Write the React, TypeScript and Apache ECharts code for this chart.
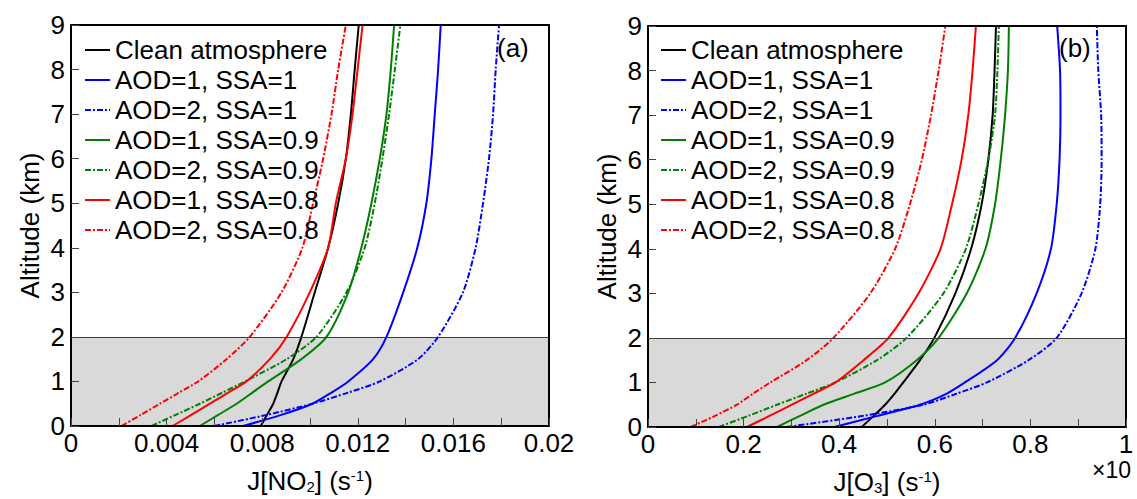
import { useEffect, useRef } from 'react';
import * as echarts from 'echarts';

// Altitude levels (km) at which the profiles were read
const ALTITUDE = [0, 0.25, 0.5, 0.75, 1, 1.5, 2, 3, 4, 5, 6, 7, 8, 9];

const SERIES_NAMES = [
  'Clean atmosphere',
  'AOD=1, SSA=1',
  'AOD=2, SSA=1',
  'AOD=1, SSA=0.9',
  'AOD=2, SSA=0.9',
  'AOD=1, SSA=0.8',
  'AOD=2, SSA=0.8',
];

// Panel (a): J[NO2] (s^-1)
const JNO2_CLEAN = [0.00794, 0.0082, 0.00846, 0.00864, 0.00881, 0.0093, 0.00964, 0.0102, 0.01076, 0.01118, 0.0115, 0.01171, 0.01187, 0.01204];
const JNO2_AOD1_SSA1 = [0.0072, 0.0088, 0.0101, 0.0109, 0.0116, 0.01264, 0.0132, 0.0139, 0.01449, 0.01487, 0.01508, 0.01522, 0.01536, 0.01547];
const JNO2_AOD2_SSA1 = [0.006, 0.0082, 0.0101, 0.0116, 0.01292, 0.01452, 0.01536, 0.0164, 0.01693, 0.01724, 0.01749, 0.01766, 0.01777, 0.01791];
const JNO2_AOD1_SSA09 = [0.00539, 0.00616, 0.00693, 0.00759, 0.00825, 0.00964, 0.01069, 0.0116, 0.01215, 0.01257, 0.01292, 0.0132, 0.01338, 0.01352];
const JNO2_AOD2_SSA09 = [0.00337, 0.00438, 0.00539, 0.00634, 0.00728, 0.00902, 0.01027, 0.01153, 0.01229, 0.01271, 0.01303, 0.01331, 0.01355, 0.01378];
const JNO2_AOD1_SSA08 = [0.00425, 0.00503, 0.00581, 0.00658, 0.00734, 0.00832, 0.00902, 0.00999, 0.01076, 0.01108, 0.0115, 0.01178, 0.01199, 0.0122];
const JNO2_AOD2_SSA08 = [0.00212, 0.00292, 0.00372, 0.00452, 0.00532, 0.00651, 0.00748, 0.00881, 0.00968, 0.01013, 0.01055, 0.0109, 0.01118, 0.0115];

// Panel (b): J[O3] (s^-1, x10^-4)
const JO3_CLEAN = [0.447, 0.472, 0.496, 0.516, 0.534, 0.569, 0.599, 0.643, 0.676, 0.698, 0.712, 0.721, 0.725, 0.728];
const JO3_AOD1_SSA1 = [0.39, 0.48, 0.569, 0.625, 0.663, 0.73, 0.768, 0.813, 0.843, 0.855, 0.861, 0.863, 0.862, 0.856];
const JO3_AOD2_SSA1 = [0.29, 0.45, 0.576, 0.646, 0.709, 0.796, 0.855, 0.907, 0.936, 0.946, 0.949, 0.948, 0.942, 0.939];
const JO3_AOD1_SSA09 = [0.27, 0.318, 0.367, 0.432, 0.496, 0.562, 0.608, 0.667, 0.706, 0.726, 0.738, 0.747, 0.753, 0.755];
const JO3_AOD2_SSA09 = [0.148, 0.21, 0.27, 0.332, 0.392, 0.479, 0.541, 0.618, 0.665, 0.691, 0.712, 0.726, 0.731, 0.734];
const JO3_AOD1_SSA08 = [0.207, 0.254, 0.301, 0.347, 0.392, 0.451, 0.503, 0.566, 0.612, 0.636, 0.656, 0.67, 0.679, 0.686];
const JO3_AOD2_SSA08 = [0.089, 0.14, 0.186, 0.22, 0.256, 0.332, 0.388, 0.465, 0.517, 0.548, 0.573, 0.592, 0.608, 0.622];

const PANEL_A = [JNO2_CLEAN, JNO2_AOD1_SSA1, JNO2_AOD2_SSA1, JNO2_AOD1_SSA09, JNO2_AOD2_SSA09, JNO2_AOD1_SSA08, JNO2_AOD2_SSA08];
const PANEL_B = [JO3_CLEAN, JO3_AOD1_SSA1, JO3_AOD2_SSA1, JO3_AOD1_SSA09, JO3_AOD2_SSA09, JO3_AOD1_SSA08, JO3_AOD2_SSA08];

// Axis ranges
const X_A = { min: 0, max: 0.02, step: 0.002 };
const X_B = { min: 0, max: 1, step: 0.1 };
const Y_RANGE = { min: 0, max: 9, step: 1 };
const BOUNDARY_LAYER = [0, 2];

// styles (kept apart from data)
const COLORS = ['#000000', '#0000ff', '#0000ff', '#008000', '#008000', '#ff0000', '#ff0000'];
const DASHED = [false, false, true, false, true, false, true];

const FONT = '"Liberation Sans", Arial, Helvetica, sans-serif';
const FS = 26;

export default function App() {
  const ref = useRef<HTMLDivElement>(null);

  useEffect(() => {
    document.body.style.margin = '0';
    document.body.style.overflow = 'hidden';
    if (!ref.current) return;
    const chart = echarts.init(ref.current, undefined, { renderer: 'svg' });

    const ranges = [X_A, X_B];
    const panels = [PANEL_A, PANEL_B];

    const fmtA = (v: number) => {
      const k = Math.round(v / X_A.step);
      return k % 2 === 0 ? String(+(k * X_A.step).toFixed(3)) : '';
    };
    const fmtB = (v: number) => {
      const k = Math.round(v / X_B.step);
      return k % 2 === 0 ? String(+(k * X_B.step).toFixed(1)) : '';
    };

    const nameRich = {
      sub: { fontSize: 15, fontFamily: FONT, color: '#000', padding: [12, 0, 0, 0] },
      sup: { fontSize: 15, fontFamily: FONT, color: '#000', padding: [0, 0, 10, 0] },
    };

    const bottomX = (i: number) => ({
      type: 'value',
      gridIndex: i,
      min: ranges[i].min,
      max: ranges[i].max,
      interval: ranges[i].step,
      position: 'bottom',
      z: 5,
      axisLine: { show: true, onZero: false, lineStyle: { color: '#000', width: 2 } },
      axisTick: { show: true, inside: true, length: 8, lineStyle: { color: '#444', width: 1 } },
      axisLabel: {
        show: true,
        fontSize: FS,
        color: '#000',
        fontFamily: FONT,
        margin: 4,
        showMinLabel: true,
        showMaxLabel: true,
        hideOverlap: false,
        formatter: i === 0 ? fmtA : fmtB,
      },
      splitLine: { show: false },
      name: i === 0 ? 'J[NO{sub|2}] (s{sup|-1})' : 'J[O{sub|3}] (s{sup|-1})',
      nameLocation: 'middle',
      nameGap: 41,
      nameTextStyle: { fontSize: FS, color: '#000', fontFamily: FONT, rich: nameRich },
    });

    const topX = (i: number) => ({
      type: 'value',
      gridIndex: i,
      min: ranges[i].min,
      max: ranges[i].max,
      interval: ranges[i].step,
      position: 'top',
      z: 5,
      axisLine: { show: true, onZero: false, lineStyle: { color: '#000', width: 2 } },
      axisTick: { show: false },
      axisLabel: { show: false },
      splitLine: { show: false },
    });

    const leftY = (i: number) => ({
      type: 'value',
      gridIndex: i,
      min: Y_RANGE.min,
      max: Y_RANGE.max,
      interval: Y_RANGE.step,
      position: 'left',
      z: 5,
      axisLine: { show: true, onZero: false, lineStyle: { color: '#000', width: 2 } },
      axisTick: { show: true, inside: true, length: 8, lineStyle: { color: '#444', width: 1 } },
      axisLabel: { show: true, fontSize: FS, color: '#000', fontFamily: FONT, margin: 6, showMinLabel: true, showMaxLabel: true },
      splitLine: { show: false },
      name: 'Altitude (km)',
      nameLocation: 'middle',
      nameGap: 28,
      nameTextStyle: { fontSize: FS, color: '#000', fontFamily: FONT },
    });

    const rightY = (i: number) => ({
      type: 'value',
      gridIndex: i,
      min: Y_RANGE.min,
      max: Y_RANGE.max,
      interval: Y_RANGE.step,
      position: 'right',
      z: 5,
      axisLine: { show: true, onZero: false, lineStyle: { color: '#000', width: 2 } },
      axisTick: { show: false },
      axisLabel: { show: false },
      splitLine: { show: false },
    });

    const series: any[] = [];
    for (let p = 0; p < 2; p++) {
      series.push({
        type: 'line',
        name: 'boundary layer',
        xAxisIndex: p,
        yAxisIndex: p,
        data: [],
        silent: true,
        z: 1,
        symbol: 'none',
        lineStyle: { opacity: 0 },
        markArea: {
          silent: true,
          itemStyle: { color: '#d9d9d9', borderWidth: 0 },
          data: [[
            { xAxis: ranges[p].min, yAxis: BOUNDARY_LAYER[0] },
            { xAxis: ranges[p].max, yAxis: BOUNDARY_LAYER[1] },
          ]],
        },
        markLine: {
          silent: true,
          symbol: 'none',
          label: { show: false },
          lineStyle: { color: '#3a3a3a', width: 1.2, type: 'solid' },
          data: [{ yAxis: BOUNDARY_LAYER[1] }],
        },
      });
      panels[p].forEach((vals, i) => {
        series.push({
          type: 'line',
          name: SERIES_NAMES[i],
          xAxisIndex: p,
          yAxisIndex: p,
          data: ALTITUDE.map((a, k) => [vals[k], a]),
          symbol: 'none',
          showSymbol: false,
          smooth: 0.25,
          silent: true,
          z: 3,
          itemStyle: { color: COLORS[i] },
          lineStyle: { color: COLORS[i], width: 2, type: DASHED[i] ? [6, 2, 2, 2] : 'solid' },
        });
      });
    }

    const legendBase = {
      orient: 'vertical',
      top: 32,
      data: SERIES_NAMES,
      itemWidth: 25,
      itemHeight: 14,
      itemGap: 4,
      selectedMode: false,
      itemStyle: { color: 'rgba(0,0,0,0)', borderWidth: 0, opacity: 0 },
      textStyle: { fontSize: FS, color: '#000', fontFamily: FONT, lineHeight: 26 },
    };

    chart.setOption({
      animation: false,
      textStyle: { fontFamily: FONT },
      grid: [
        { left: 71, width: 478, top: 25, height: 401, outerBoundsMode: 'none', containLabel: false },
        { left: 648, width: 478, top: 26, height: 401, outerBoundsMode: 'none', containLabel: false },
      ],
      xAxis: [bottomX(0), bottomX(1), topX(0), topX(1)],
      yAxis: [leftY(0), leftY(1), rightY(0), rightY(1)],
      legend: [
        { ...legendBase, left: 79 },
        { ...legendBase, left: 655 },
      ],
      graphic: [
        { type: 'text', left: 497, top: 35, style: { text: '(a)', fontSize: FS, fill: '#000', fontFamily: FONT } },
        { type: 'text', left: 1059, top: 35, style: { text: '(b)', fontSize: FS, fill: '#000', fontFamily: FONT } },
        { type: 'text', left: 1092, top: 458, style: { text: '×10', fontSize: 23, fill: '#000', fontFamily: FONT } },
      ],
      series,
    });

    return () => chart.dispose();
  }, []);

  return <div ref={ref} style={{ width: 1137, height: 499 }} />;
}
